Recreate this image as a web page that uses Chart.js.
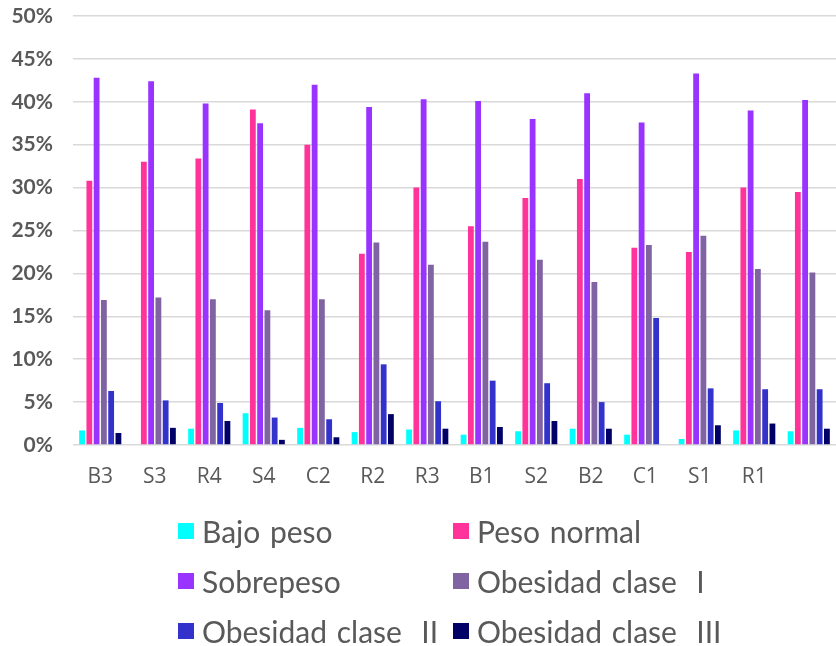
<!DOCTYPE html>
<html>
<head>
<meta charset="utf-8">
<script src="https://cdn.jsdelivr.net/npm/chart.js@4/dist/chart.umd.min.js"></script>
<style>
  body { margin: 0; background: #fff; }
  #wrap { position: relative; width: 836px; height: 646px; }
  #plot { position: absolute; left: 0; top: 0; }
  #legend { position: absolute; left: 0; top: 0; width: 836px; height: 646px; pointer-events: none;
            font-family: 'Lato', sans-serif; font-size: 30px; word-spacing: 2px; color: #595959; }
  .item { position: absolute; white-space: pre; line-height: 32px; height: 32px; }
  .box { position: absolute; left: 0; top: 8px; width: 16px; height: 16px; }
  .txt { position: absolute; left: 24px; top: 0; }
</style>
</head>
<body>
<div id="wrap">
  <canvas id="plot" width="836" height="490"></canvas>
  <div id="legend"></div>
</div>
<script>
'use strict';

// groups on the x axis (last one has no label)
const categories = ['B3', 'S3', 'R4', 'S4', 'C2', 'R2', 'R3', 'B1', 'S2', 'B2', 'C1', 'S1', 'R1', ''];

// percentages
const bajoPeso   = [1.7, 0.0, 1.9, 3.7, 2.0, 1.5, 1.8, 1.2, 1.6, 1.9, 1.2, 0.7, 1.7, 1.6];
const pesoNormal = [30.8, 33.0, 33.4, 39.1, 35.0, 22.3, 30.0, 25.5, 28.8, 31.0, 23.0, 22.5, 30.0, 29.5];
const sobrepeso  = [42.8, 42.4, 39.8, 37.5, 42.0, 39.4, 40.3, 40.1, 38.0, 41.0, 37.6, 43.3, 39.0, 40.2];
const obesidad1  = [16.9, 17.2, 17.0, 15.7, 17.0, 23.6, 21.0, 23.7, 21.6, 19.0, 23.3, 24.4, 20.5, 20.1];
const obesidad2  = [6.3, 5.2, 4.9, 3.2, 3.0, 9.4, 5.1, 7.5, 7.2, 5.0, 14.8, 6.6, 6.5, 6.5];
const obesidad3  = [1.4, 2.0, 2.8, 0.6, 0.9, 3.6, 1.9, 2.1, 2.8, 1.9, 0.0, 2.3, 2.5, 1.9];

const seriesNames = ['Bajo peso', 'Peso normal', 'Sobrepeso', 'Obesidad clase  I', 'Obesidad clase  II', 'Obesidad clase  III'];
const seriesData = [bajoPeso, pesoNormal, sobrepeso, obesidad1, obesidad2, obesidad3];
const COLORS = ['#00ffff', '#ff3399', '#9933ff', '#8064a2', '#3333cc', '#000066'];

const yTicks = { min: 0, max: 50, step: 5 };

const TEXT = '#595959';

const datasets = [];
for (let i = 0; i < seriesNames.length; i++) {
    datasets.push({
        label: seriesNames[i],
        data: seriesData[i],
        backgroundColor: COLORS[i],
        borderWidth: 0,
        barPercentage: 0.8,
        categoryPercentage: 0.8
    });
}

const config = {
    type: 'bar',
    data: { labels: categories, datasets: datasets },
    options: {
        responsive: false,
        animation: false,
        layout: { padding: { top: 16, left: 0, right: 0, bottom: 0 } },
        plugins: {
            legend: { display: false },
            tooltip: { enabled: false }
        },
        scales: {
            x: {
                grid: { display: false },
                border: { display: false },
                ticks: {
                    color: TEXT,
                    padding: 11,
                    maxRotation: 0,
                    autoSkip: false,
                    font: { family: "'Open Sans'", size: 21 }
                },
                afterFit: function (s) { s.height = 45; }
            },
            y: {
                min: yTicks.min,
                max: yTicks.max,
                // ticks stay invisible, their length just pushes the labels left
                grid: { color: '#d9d9d9', lineWidth: 1.5, drawTicks: true, tickLength: 17, tickColor: 'rgba(0,0,0,0)' },
                border: { display: false },
                ticks: {
                    stepSize: yTicks.step,
                    color: TEXT,
                    padding: 3,
                    font: { family: 'Lato', size: 21, weight: 'bold' },
                    callback: v => v + '%'
                },
                afterFit: function (s) { s.width = 73; }
            }
        }
    }
};

new Chart(document.getElementById('plot'), config);

// legend in two columns, built from the same series
const legendEl = document.getElementById('legend');
const colX = [178, 453];
const rowY = [515, 565, 615];
seriesNames.forEach((name, i) => {
    const it = document.createElement('div');
    it.className = 'item';
    it.style.left = colX[i % 2] + 'px';
    it.style.top = rowY[Math.floor(i / 2)] + 'px';
    const b = document.createElement('div');
    b.className = 'box';
    b.style.background = COLORS[i];
    const t = document.createElement('span');
    t.className = 'txt';
    t.textContent = name;
    it.appendChild(b);
    it.appendChild(t);
    legendEl.appendChild(it);
});
</script>
</body>
</html>
